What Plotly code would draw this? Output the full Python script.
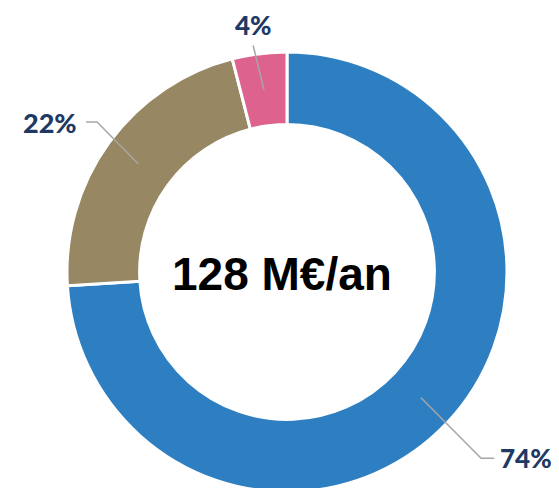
import math
import plotly.graph_objects as go

categories = ["A", "B", "C"]
values = [74, 22, 4]
labels = ["74%", "22%", "4%"]
colors = ["#2E7FC2", "#978762", "#DD628D"]
center_text = "128 M€/an"

W, H = 559, 488
OFF = 8  # page body margin
cx, cy, R, hole = 287 - OFF, 272 - OFF, 220, 0.67

fig = go.Figure()
fig.add_trace(go.Pie(
    labels=categories, values=values, sort=False, direction="clockwise", rotation=0,
    hole=hole, textinfo="none", hoverinfo="label+percent",
    marker=dict(colors=colors, line=dict(color="white", width=3)),
    domain=dict(x=[(cx - R) / W, (cx + R) / W], y=[(H - cy - R) / H, (H - cy + R) / H]),
    showlegend=False,
))

r_mid = R * (1 + hole) / 2
leader = [  # (angle shift deg, elbow radius, horizontal tail px, text side, gap, font size)
    (0.6, 269, 13, "left", 4, 26),
    (2.3, 242, -11, "right", 7, 27),
    (-1.3, 229, 0, "top", 21, 26),
]
total = sum(values)
cum = 0
shapes = []
annotations = []
for v, lab, (da, re, tail, side, gap, fs) in zip(values, labels, leader):
    mid = (cum + v / 2) / total * 2 * math.pi
    cum += v
    x0, y0 = cx + r_mid * math.sin(mid), cy - r_mid * math.cos(mid)
    a = mid + math.radians(da)
    x1, y1 = cx + re * math.sin(a), cy - re * math.cos(a)
    x2, y2 = x1 + tail, y1
    shapes.append(dict(type="path", path=f"M{x0},{y0} L{x1},{y1} L{x2},{y2}",
                       xref="x", yref="y", line=dict(color="#A6A6A6", width=1.5)))
    if side == "left":
        an = dict(x=x2 + gap, y=y2, xanchor="left", yanchor="middle")
    elif side == "right":
        an = dict(x=x2 - gap, y=y2, xanchor="right", yanchor="middle")
    else:
        an = dict(x=x1, y=y1 - gap, xanchor="center", yanchor="middle")
    an.update(text=lab, xref="x", yref="y", showarrow=False,
              font=dict(family="Lato Black, Lato", size=fs, color="#203864", weight=900))
    annotations.append(an)

annotations.append(dict(x=cx - 5, y=cy + 2, xref="x", yref="y", showarrow=False,
                        text=f"<b>{center_text}</b>", xanchor="center", yanchor="middle",
                        font=dict(family="Liberation Sans, Arial", size=46, color="#000000")))

fig.update_layout(
    width=W, height=H, margin=dict(l=0, r=0, t=0, b=0),
    paper_bgcolor="white", plot_bgcolor="rgba(0,0,0,0)",
    xaxis=dict(range=[0, W], visible=False, fixedrange=True),
    yaxis=dict(range=[H, 0], visible=False, fixedrange=True),
    shapes=shapes, annotations=annotations,
)
fig.write_html("out.html")
